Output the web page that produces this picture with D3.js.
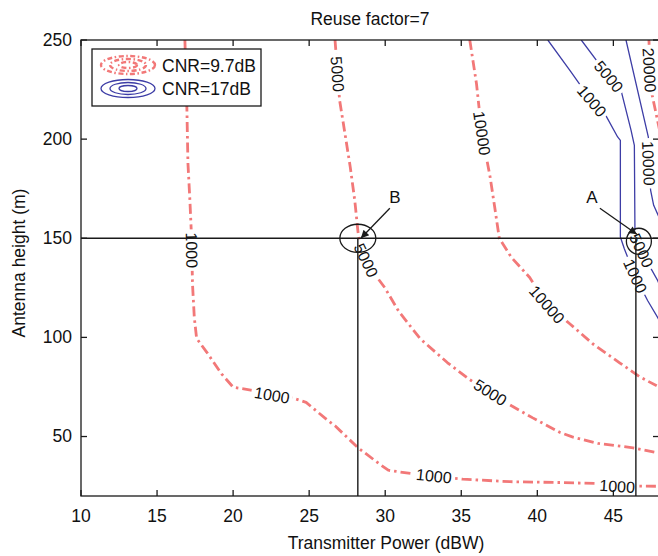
<!DOCTYPE html>
<html><head><meta charset="utf-8">
<script src="https://cdn.jsdelivr.net/npm/d3@7"></script>
<style>
html,body{margin:0;padding:0;background:#fff;}
svg text{font-family:"Liberation Sans",Arial,Helvetica,sans-serif;fill:#111;}
</style></head><body>
<svg id="chart" width="658" height="556"></svg>
<script>
// ---------------- data ----------------
const titleText = "Reuse factor=7";
const xLabelText = "Transmitter Power (dBW)";
const yLabelText = "Antenna height (m)";
const xDomain = [10, 48];
const yDomain = [20, 250];
const xTicks = [10, 15, 20, 25, 30, 35, 40, 45];
const yTicks = [50, 100, 150, 200, 250];
const seriesNames = ["CNR=9.7dB", "CNR=17dB"];

// CNR = 9.7 dB contours (red, dash-dot)
const red1000 = [[16.83,250],[16.95,220],[17.03,188],[17.16,169],[17.27,150],[17.33,127],[17.45,110],[17.6,99.5],[18.26,92.6],[19.24,81.6],[20.0,74.9],[21.3,73.2],[22.5,71.2],[23.7,70],[24.8,67.2],[25.3,64],[26.25,58],[26.7,55.4],[28.2,44.4],[29.65,36.0],[30.2,33],[31.8,31.2],[33.2,30],[35.1,28.5],[38.2,27.2],[41.5,26.8],[44.0,26.3],[45.3,25.3],[46.7,25.0],[48,24.9]];
const red5000 = [[26.7,250],[27.0,219.7],[27.35,203],[27.7,186],[28.0,169],[28.2,154],[28.3,148],[28.6,142],[29.2,133],[29.97,125.1],[30.9,113],[32.3,99.3],[34.1,87.2],[35.5,79],[36.9,72],[38.3,65.5],[39.7,59.4],[41.5,52],[42.3,49.8],[44,46.5],[46.3,44.3],[47.85,41.9]];
const red10000 = [[35.56,250],[36.0,228],[36.35,203],[36.9,180.8],[37.2,165.6],[37.5,150],[38.3,140.3],[39.5,130.2],[40.62,116.5],[42.13,106.9],[43.64,96.8],[45.41,87.2],[46.73,80.1],[47.85,75.6]];
const red20000 = [[47.34,250],[47.4,234.8],[47.55,222.2],[48.04,204.5],[48.3,190]];
const redLabels = [
  {level: 1000, x: 17.27, y: 144}, {level: 1000, x: 22.55, y: 70.8},
  {level: 1000, x: 33.2, y: 30.0}, {level: 1000, x: 45.25, y: 24.8},
  {level: 5000, x: 26.85, y: 232.8}, {level: 5000, x: 28.73, y: 138.8},
  {level: 5000, x: 36.9, y: 72.2},
  {level: 10000, x: 36.35, y: 203}, {level: 10000, x: 40.62, y: 116.5},
  {level: 20000, x: 47.36, y: 234.8}
];

// CNR = 17 dB contours (blue, solid)
const blue1000 = [[40.69,250],[42.2,234],[43.57,219.2],[44.49,212.1],[45.28,201.1],[45.46,199.4],[45.46,150.6],[45.72,144.7],[46.43,130.9],[47.25,118.6],[47.91,110.1],[48.3,104]];
const blue5000 = [[42.89,250],[44.69,231.5],[45.5,224.7],[46.16,204.5],[46.38,196.9],[46.42,152.4],[46.6,147],[47.05,140.5],[47.91,128.7],[48.3,122]];
const blue10000 = [[45.83,250],[47.3,201],[47.32,187.8],[47.45,174.2],[47.65,166.6],[48.4,154]];
const blueLabels = [
  {level: 1000, x: 43.57, y: 219.2}, {level: 1000, x: 46.43, y: 130.9},
  {level: 5000, x: 44.69, y: 231.5}, {level: 5000, x: 46.83, y: 143.8},
  {level: 10000, x: 47.3, y: 187.8}
];

// operating points
const pointNames = ["A", "B"];
const pointX = [46.48, 28.2];
const pointY = [150, 150];

// ---------------- layout ----------------
const W = 658, H = 556;
const M = {left: 81, top: 40, right: 659, bottom: 496};
const RED = "#f27878", BLUE = "#3d3da6", INK = "#1a1a1a";

const svg = d3.select("#chart");
svg.append("rect").attr("width", W).attr("height", H).attr("fill", "#fff");

const x = d3.scaleLinear().domain(xDomain).range([M.left, M.right]);
const y = d3.scaleLinear().domain(yDomain).range([M.bottom, M.top]);
const line = d3.line().x(d => x(d[0])).y(d => y(d[1]));

const defs = svg.append("defs");
defs.append("clipPath").attr("id", "plotclip").append("rect")
  .attr("x", M.left).attr("y", M.top).attr("width", M.right - M.left).attr("height", M.bottom - M.top);
defs.append("marker").attr("id", "arrow").attr("viewBox", "0 0 10 10")
  .attr("refX", 10).attr("refY", 5).attr("markerWidth", 11).attr("markerHeight", 8)
  .attr("markerUnits", "userSpaceOnUse").attr("orient", "auto")
  .append("path").attr("d", "M0,0 L10,5 L0,10 Z").attr("fill", INK);

// label angle helper along a polyline (pixel space)
function labelAngle(data, lx, ly) {
  const pts = data.map(d => [x(d[0]), y(d[1])]);
  const cum = [0];
  for (let i = 0; i < pts.length - 1; i++) cum.push(cum[i] + Math.hypot(pts[i+1][0]-pts[i][0], pts[i+1][1]-pts[i][1]));
  let best = {d: Infinity, s: 0};
  for (let i = 0; i < pts.length - 1; i++) {
    const [x1, y1] = pts[i], [x2, y2] = pts[i+1];
    const dx = x2 - x1, dy = y2 - y1, L2 = dx*dx + dy*dy;
    let t = L2 ? ((lx-x1)*dx + (ly-y1)*dy) / L2 : 0;
    t = Math.max(0, Math.min(1, t));
    const d = (x1 + t*dx - lx) ** 2 + (y1 + t*dy - ly) ** 2;
    if (d < best.d) best = {d, s: cum[i] + t * Math.sqrt(L2)};
  }
  function at(s) {
    s = Math.max(0, Math.min(cum[cum.length-1], s));
    for (let i = 0; i < pts.length - 1; i++) {
      if (s <= cum[i+1] || i === pts.length - 2) {
        const seg = cum[i+1] - cum[i] || 1, t = (s - cum[i]) / seg;
        return [pts[i][0] + t*(pts[i+1][0]-pts[i][0]), pts[i][1] + t*(pts[i+1][1]-pts[i][1])];
      }
    }
  }
  const a = at(best.s - 14), b = at(best.s + 14);
  let ang = Math.atan2(b[1]-a[1], b[0]-a[0]) * 180 / Math.PI;
  if (ang > 90) ang -= 180;
  if (ang <= -90) ang += 180;
  return ang;
}

function drawSet(curves, labels, color, width, dash, maskId) {
  const byLevel = {};
  curves.forEach(c => byLevel[c.level] = c.data);
  const lab = labels.map(l => {
    const px = x(l.x), py = y(l.y);
    return {text: String(l.level), px, py, ang: labelAngle(byLevel[l.level], px, py)};
  });
  const mask = defs.append("mask").attr("id", maskId).attr("maskUnits", "userSpaceOnUse")
    .attr("x", 0).attr("y", 0).attr("width", W + 60).attr("height", H);
  mask.append("rect").attr("x", 0).attr("y", 0).attr("width", W + 60).attr("height", H).attr("fill", "#fff");
  lab.forEach(l => {
    const w = l.text.length * 8.9 + 6;
    mask.append("rect").attr("x", -w/2).attr("y", -7).attr("width", w).attr("height", 14)
      .attr("fill", "#000").attr("transform", `translate(${l.px},${l.py}) rotate(${l.ang})`);
  });
  const g = svg.append("g").attr("clip-path", "url(#plotclip)");
  g.append("g").attr("mask", `url(#${maskId})`).selectAll("path").data(curves).join("path")
    .attr("d", c => line(c.data)).attr("fill", "none").attr("stroke", color)
    .attr("stroke-width", width).attr("stroke-dasharray", dash).attr("stroke-linejoin", "round");
  svg.append("g").selectAll("text").data(lab).join("text")
    .attr("transform", l => `translate(${l.px},${l.py}) rotate(${l.ang})`)
    .attr("text-anchor", "middle").attr("dominant-baseline", "central")
    .attr("font-size", 16).style("fill", "#111").text(l => l.text);
}

drawSet([{level: 1000, data: red1000}, {level: 5000, data: red5000}, {level: 10000, data: red10000}, {level: 20000, data: red20000}],
  redLabels, RED, 2.8, "10,4,2.5,4", "redmask");
drawSet([{level: 1000, data: blue1000}, {level: 5000, data: blue5000}, {level: 10000, data: blue10000}],
  blueLabels, BLUE, 1.3, null, "bluemask");

// reference lines through operating points
const ann = svg.append("g").attr("clip-path", "url(#plotclip)");
ann.append("line").attr("x1", x(xDomain[0])).attr("x2", x(xDomain[1]))
  .attr("y1", y(pointY[0])).attr("y2", y(pointY[0])).attr("stroke", INK).attr("stroke-width", 1.4);
pointX.forEach((px, i) => {
  ann.append("line").attr("x1", x(px)).attr("x2", x(px)).attr("y1", y(pointY[i])).attr("y2", y(yDomain[0]))
    .attr("stroke", INK).attr("stroke-width", 1.4);
});
// circles and arrows
const circ = {A: {dx: 3, dy: 3, rx: 12.5, ry: 13}, B: {dx: 0, dy: 0, rx: 18, ry: 14}};
const lbl = {A: {dx: -44, dy: -41, ax: -36, ay: -30, tx: 1, ty: -4}, B: {dx: 37, dy: -41, ax: 32, ay: -30, tx: 3, ty: 0}};
pointNames.forEach((n, i) => {
  const px = x(pointX[i]), py = y(pointY[i]);
  ann.append("ellipse").attr("cx", px + circ[n].dx).attr("cy", py + circ[n].dy)
    .attr("rx", circ[n].rx).attr("ry", circ[n].ry).attr("fill", "none").attr("stroke", INK).attr("stroke-width", 1.3);
  ann.append("line").attr("x1", px + lbl[n].ax).attr("y1", py + lbl[n].ay)
    .attr("x2", px + lbl[n].tx).attr("y2", py + lbl[n].ty)
    .attr("stroke", INK).attr("stroke-width", 1.3).attr("marker-end", "url(#arrow)");
  svg.append("text").attr("x", px + lbl[n].dx).attr("y", py + lbl[n].dy).attr("text-anchor", "middle")
    .attr("dominant-baseline", "central").attr("font-size", 17).text(n);
});

// axes box and ticks
const axis = svg.append("g").attr("stroke", INK).attr("stroke-width", 1.3);
axis.append("rect").attr("x", M.left).attr("y", M.top).attr("width", M.right - M.left).attr("height", M.bottom - M.top)
  .attr("fill", "none");
const TL = 6;
xTicks.forEach(t => {
  axis.append("line").attr("x1", x(t)).attr("x2", x(t)).attr("y1", M.bottom).attr("y2", M.bottom - TL);
  axis.append("line").attr("x1", x(t)).attr("x2", x(t)).attr("y1", M.top).attr("y2", M.top + TL);
});
yTicks.forEach(t => {
  axis.append("line").attr("x1", M.left).attr("x2", M.left + TL).attr("y1", y(t)).attr("y2", y(t));
  axis.append("line").attr("x1", M.right).attr("x2", M.right - TL).attr("y1", y(t)).attr("y2", y(t));
});
svg.append("g").selectAll("text").data(xTicks).join("text")
  .attr("x", d => x(d)).attr("y", M.bottom + 26).attr("text-anchor", "middle").attr("font-size", 17.5).text(d => d);
svg.append("g").selectAll("text").data(yTicks).join("text")
  .attr("x", M.left - 9).attr("y", d => y(d) + 5.5).attr("text-anchor", "end").attr("font-size", 17.5).text(d => d);

svg.append("text").attr("x", 370).attr("y", 25).attr("text-anchor", "middle").attr("font-size", 17.5).text(titleText);
svg.append("text").attr("x", 386).attr("y", 549).attr("text-anchor", "middle").attr("font-size", 17.5).text(xLabelText);
svg.append("text").attr("transform", "translate(25,263) rotate(-90)").attr("text-anchor", "middle")
  .attr("font-size", 17.5).text(yLabelText);

// legend
const lg = svg.append("g");
lg.append("rect").attr("x", 92).attr("y", 49).attr("width", 169).attr("height", 57)
  .attr("fill", "#fff").attr("stroke", INK).attr("stroke-width", 1.3);
const iconColors = [RED, BLUE];
seriesNames.forEach((name, i) => {
  const cy = 65 + i * 23.5, cx = 128;
  [[27, 9], [18, 6], [9, 3]].forEach(([rx, ry]) => {
    lg.append("ellipse").attr("cx", cx).attr("cy", cy).attr("rx", rx).attr("ry", ry)
      .attr("fill", "none").attr("stroke", iconColors[i])
      .attr("stroke-width", i === 0 ? 2.4 : 1.3)
      .attr("stroke-dasharray", i === 0 ? "5,2.5,1.5,2.5" : null);
  });
  lg.append("text").attr("x", 162).attr("y", cy + 6.5).attr("font-size", 17.5).text(name);
});
</script>
</body></html>
